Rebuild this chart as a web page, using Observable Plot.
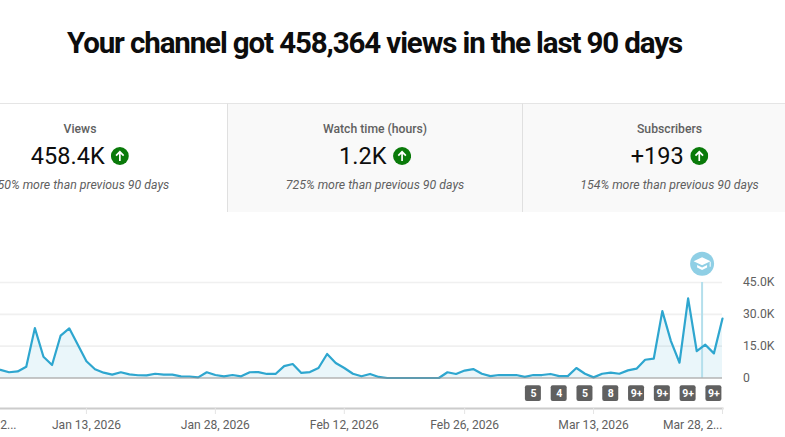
<!DOCTYPE html>
<html><head><meta charset="utf-8">
<script src="https://cdn.jsdelivr.net/npm/d3@7"></script>
<script src="https://cdn.jsdelivr.net/npm/@observablehq/plot@0.6"></script>
<style>
html,body{margin:0;padding:0;background:#fff;width:785px;height:437px;overflow:hidden;font-family:Roboto,sans-serif;}
#page{position:relative;width:785px;height:437px;overflow:hidden;}
h1{position:absolute;left:0;top:25px;margin:0;width:749px;text-align:center;font-size:29.5px;line-height:36px;font-weight:700;color:#0d0d0d;letter-spacing:-1.12px;white-space:nowrap;}
.card{position:absolute;top:103px;height:108px;border-top:1px solid #e5e5e5;background:#f9f9f9;box-sizing:content-box;}
.card.on{background:#fff;}
.card.br{border-right:1px solid #e0e0e0;}
.lab,.val,.cmp{position:absolute;white-space:nowrap;transform:translateX(-50%);}
.lab{top:17px;font-size:12.2px;line-height:16px;font-weight:500;color:#606060;}
.val{top:36px;display:flex;align-items:center;gap:7px;font-size:23.5px;line-height:32px;color:#0d0d0d;}
.cmp{top:73px;font-size:12.3px;line-height:16px;font-style:italic;color:#606060;}
#chart{position:absolute;left:0;top:240px;}
#chart svg{display:block;}
</style></head><body>
<div id="page"><h1 id="title"></h1><div id="cards"></div><div id="chart"></div></div>
<script>
const titleText = "Your channel got 458,364 views in the last 90 days";
const cardLabels = ["Views", "Watch time (hours)", "Subscribers"];
const cardValues = ["458.4K", "1.2K", "+193"];
const cardNotes = ["350% more than previous 90 days", "725% more than previous 90 days", "154% more than previous 90 days"];

const firstDay = "2026-01-03";
const views = [
  3.8,2.7,3.1,5.3,23.5,10,6.1,20,23.4,15.7,7.9,4.1,2.5,1.6,2.7,1.7,1.3,1.2,2,1.6,1.6,0.8,0.7,0.3,
  2.7,1.4,0.8,1.4,0.8,2.7,2.8,1.9,1.9,5.6,6.6,2.4,2.8,4.7,11.3,7.1,4.7,2,0.8,1.9,0.5,0,0,0,0,0,0,0,
  2.7,1.9,3.5,4.2,2,0.9,1.4,1.4,1.4,0.5,1.4,1.4,1.9,0.9,0.9,4.7,2,0.3,
  2,2.5,2,3.6,4.4,8.6,9.1,31.5,17.4,7.2,37.5,12.7,15.7,11.6,28
].map(v => v * 1000);
const yTicks = [0, 15000, 30000, 45000];
const xTickDates = ["2026-01-13","2026-01-28","2026-02-12","2026-02-26","2026-03-13"];
const xEdgeDates = ["2025-12-29","2026-03-28"];
const xEdgeLabels = ["Dec 29, 2...","Mar 28, 2..."];
const badgeDates = ["2026-03-06","2026-03-09","2026-03-12","2026-03-15","2026-03-18","2026-03-21","2026-03-24","2026-03-27"];
const badgeLabels = ["5","4","5","8","9+","9+","9+","9+"];
const milestoneDate = "2026-03-25T15:00:00Z";

const D = s => new Date(s.length > 10 ? s : s + "T00:00:00Z");
const rows = views.map((v, i) => ({date: d3.utcDay.offset(D(firstDay), i), views: v}));
const badges = badgeDates.map((d, i) => ({date: D(d), label: badgeLabels[i]}));

document.getElementById("title").textContent = titleText;
const layout = [[-67,294,147,true,true],[228,294,147,false,true],[523,262,146.5,false,false]];
const arrow = `<svg width="18" height="18" viewBox="0 0 18 18" style="flex:none;margin-left:-0.5px"><circle cx="9" cy="9" r="9" fill="#0a7a0a"/><path d="M9 14V5M5.2 8.6 9 4.8l3.8 3.8" fill="none" stroke="#fff" stroke-width="1.7"/></svg>`;
document.getElementById("cards").innerHTML = cardLabels.map((l, i) => {
  const [left, w, c, on, br] = layout[i];
  return `<div class="card${on ? " on" : ""}${br ? " br" : ""}" style="left:${left}px;width:${w}px">
  <div class="lab" style="left:${c}px">${l}</div>
  <div class="val" style="left:${c}px"><span>${cardValues[i]}</span>${arrow}</div>
  <div class="cmp" style="left:${c}px">${cardNotes[i]}</div></div>`;
}).join("");

const capSymbol = {draw(ctx) {
  ctx.moveTo(-8.5,-2.5);ctx.lineTo(0,-6.5);ctx.lineTo(8.5,-2.5);ctx.lineTo(0,1.5);ctx.closePath();
  ctx.moveTo(-5,1.2);ctx.lineTo(0,3.6);ctx.lineTo(5,1.2);ctx.lineTo(5,3.8);ctx.lineTo(0,6.2);ctx.lineTo(-5,3.8);ctx.closePath();
  ctx.moveTo(7.6,-1.5);ctx.lineTo(8.6,-2);ctx.lineTo(8.6,3);ctx.lineTo(7.6,3);ctx.closePath();
}};
const font = "Roboto, sans-serif";
const badgeHalfDays = 0.93;
const shift = (d, days) => new Date(+d + days * 864e5);

const chart = Plot.plot({
  width: 785, height: 197,
  marginLeft: 0, marginRight: 63, marginTop: 0, marginBottom: 29,
  style: {fontFamily: font, fontSize: "12px", color: "#606060", background: "transparent"},
  x: {type: "utc", domain: [D("2025-12-29"), D("2026-03-28")], range: [-43, 722]},
  y: {domain: [0, 45000], range: [137.5, 42], label: null},
  marks: [
    Plot.ruleY(yTicks.slice(1), {stroke: "#f0f0f0", strokeWidth: 1.6}),
    Plot.areaY(rows, {x: "date", y: "views", fill: "#2ea6cf", fillOpacity: 0.1}),
    Plot.ruleX([D(milestoneDate)], {y1: 0, y2: 45000, stroke: "#b4dfec", strokeWidth: 2}),
    Plot.lineY(rows, {x: "date", y: "views", stroke: "#2ea6cf", strokeWidth: 2.2, strokeMiterlimit: 4}),
    Plot.ruleY([0], {stroke: "#8f8f8f", strokeWidth: 1}),
    Plot.rect(badges, {x1: d => shift(d.date, -badgeHalfDays), x2: d => shift(d.date, badgeHalfDays), y1: -11100, y2: -3600, fill: "#606060", rx: 2}),
    Plot.text(badges, {x: "date", y: -7300, text: "label", fill: "#fff", fontSize: 10.5, fontWeight: 700}),
    Plot.frame({anchor: "bottom", stroke: "#cccccc", strokeWidth: 2}),
    Plot.axisX({ticks: xTickDates.map(D).concat(D(xEdgeDates[1])), tickSize: 6, stroke: "#e4e4e4", text: null, label: null}),
    Plot.axisX({ticks: xTickDates.map(D), tickSize: 0, tickPadding: 11.5, fill: "#606060", tickFormat: d3.utcFormat("%b %-d, %Y"), fontSize: 12.1, label: null}),
    Plot.text([0], {x: () => D(xEdgeDates[0]), text: () => xEdgeLabels[0], frameAnchor: "bottom", textAnchor: "start", dy: 20, fill: "#606060", fontSize: 12.1}),
    Plot.text([1], {x: () => D(xEdgeDates[1]), text: () => xEdgeLabels[1], frameAnchor: "bottom", textAnchor: "end", dy: 20, fill: "#606060", fontSize: 12.1}),
    Plot.axisY({anchor: "right", ticks: yTicks, tickSize: 0, tickPadding: 20.5, fill: "#606060", fontSize: 12.2, label: null,
      tickFormat: d => d ? (d / 1000).toFixed(1) + "K" : "0"}),
    Plot.dot([D(milestoneDate)], {x: d => d, y: 53800, r: 12, fill: "#8fcfe5", stroke: null}),
    Plot.dot([D(milestoneDate)], {x: d => d, y: 53800, r: 6, fill: "#fff", stroke: null, symbol: capSymbol})
  ]
});
document.getElementById("chart").append(chart);
</script>
</body></html>
